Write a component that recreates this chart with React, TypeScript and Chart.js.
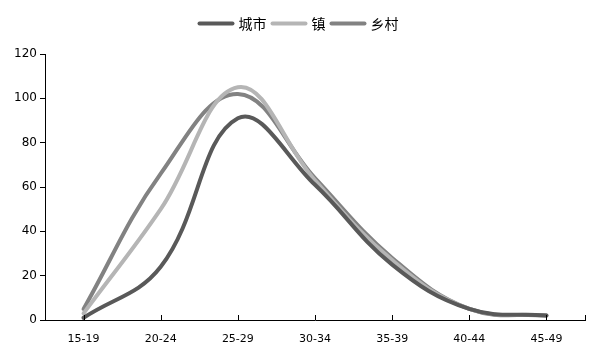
import React, { useEffect, useRef } from "react";
import { Chart, registerables } from "chart.js";

Chart.register(...registerables);

const categories = ["15-19", "20-24", "25-29", "30-34", "35-39", "40-44", "45-49"];
const cityValues = [1, 24, 91, 61, 25, 5, 2];
const townValues = [3, 50, 105, 63, 27, 5, 2];
const ruralValues = [5, 66, 102, 64, 28, 5, 2];
const seriesNames = ["城市", "镇", "乡村"];
const yTicks = [0, 20, 40, 60, 80, 100, 120];

const innerTicks = {
  id: "innerTicks",
  afterDraw(chart: any) {
    const x = chart.scales.x;
    const ctx = chart.ctx;
    const bottom = chart.chartArea.bottom;
    ctx.save();
    ctx.strokeStyle = "#000";
    ctx.lineWidth = 1;
    ctx.beginPath();
    const positions: number[] = [];
    for (let i = 0; i < categories.length; i++) positions.push(x.getPixelForTick(i));
    positions.push(chart.chartArea.right);
    for (const p of positions) {
      const px = Math.round(p) + 0.5;
      ctx.moveTo(px, bottom);
      ctx.lineTo(px, bottom - 5);
    }
    ctx.stroke();
    ctx.restore();
  },
};

const lineLegend = {
  id: "lineLegend",
  afterDraw(chart: any) {
    const ctx = chart.ctx;
    const lineLen = 37;
    const gap = 4;
    const itemGap = 4;
    const y = 23.5;
    ctx.save();
    ctx.font = "14px 'Noto Sans CJK SC', 'DejaVu Sans'";
    const items = chart.data.datasets.map((d: any) => ({
      label: d.label,
      color: d.borderColor,
      w: ctx.measureText(d.label).width,
    }));
    let total = 0;
    items.forEach((it: any, i: number) => {
      total += lineLen + gap + it.w + (i < items.length - 1 ? itemGap : 0);
    });
    let x = 298 - total / 2;
    ctx.textBaseline = "middle";
    ctx.textAlign = "left";
    for (const it of items) {
      ctx.strokeStyle = it.color;
      ctx.lineWidth = 4;
      ctx.lineCap = "round";
      ctx.beginPath();
      ctx.moveTo(x + 2, y);
      ctx.lineTo(x + lineLen - 2, y);
      ctx.stroke();
      x += lineLen + gap;
      ctx.fillStyle = "#000";
      ctx.fillText(it.label, x, y);
      x += it.w + itemGap;
    }
    ctx.restore();
  },
};

export default function App() {
  const ref = useRef<HTMLCanvasElement | null>(null);
  useEffect(() => {
    document.body.style.margin = "0";
    const colors = ["#595959", "#b5b5b5", "#828282"];
    const values = [cityValues, townValues, ruralValues];
    const chart = new Chart(ref.current!, {
      type: "line",
      data: {
        labels: categories,
        datasets: seriesNames.map((name, i) => ({
          label: name,
          data: values[i],
          borderColor: colors[i],
          backgroundColor: colors[i],
          borderWidth: 4,
          tension: 0.4,
          pointRadius: 0,
          fill: false,
          borderCapStyle: "round" as const,
        })),
      },
      options: {
        animation: false,
        responsive: false,
        layout: { padding: { left: 0, right: 15, top: 54, bottom: 0 } },
        plugins: {
          legend: { display: false },
          tooltip: { enabled: false },
        },
        scales: {
          x: {
            offset: true,
            grid: { display: false, drawTicks: false },
            border: { display: true, color: "#000", width: 1 },
            ticks: {
              color: "#000",
              padding: 13,
              font: { family: "'DejaVu Sans'", size: 11 },
              maxRotation: 0,
            },
            afterFit: (s: any) => {
              s.height = 40;
            },
          },
          y: {
            min: 0,
            max: 120,
            afterBuildTicks: (s: any) => {
              s.ticks = yTicks.map((v) => ({ value: v }));
            },
            grid: { display: true, drawOnChartArea: false, tickLength: 5, color: "#000" },
            border: { display: true, color: "#000", width: 1 },
            ticks: {
              color: "#000",
              padding: 3,
              font: { family: "'DejaVu Sans'", size: 12 },
            },
            afterFit: (s: any) => {
              s.width = 45;
            },
          },
        },
      },
      plugins: [innerTicks, lineLegend],
    });
    return () => chart.destroy();
  }, []);
  return (
    <div style={{ width: 600, height: 360, background: "#fff" }}>
      <canvas ref={ref} width={600} height={360} />
    </div>
  );
}
